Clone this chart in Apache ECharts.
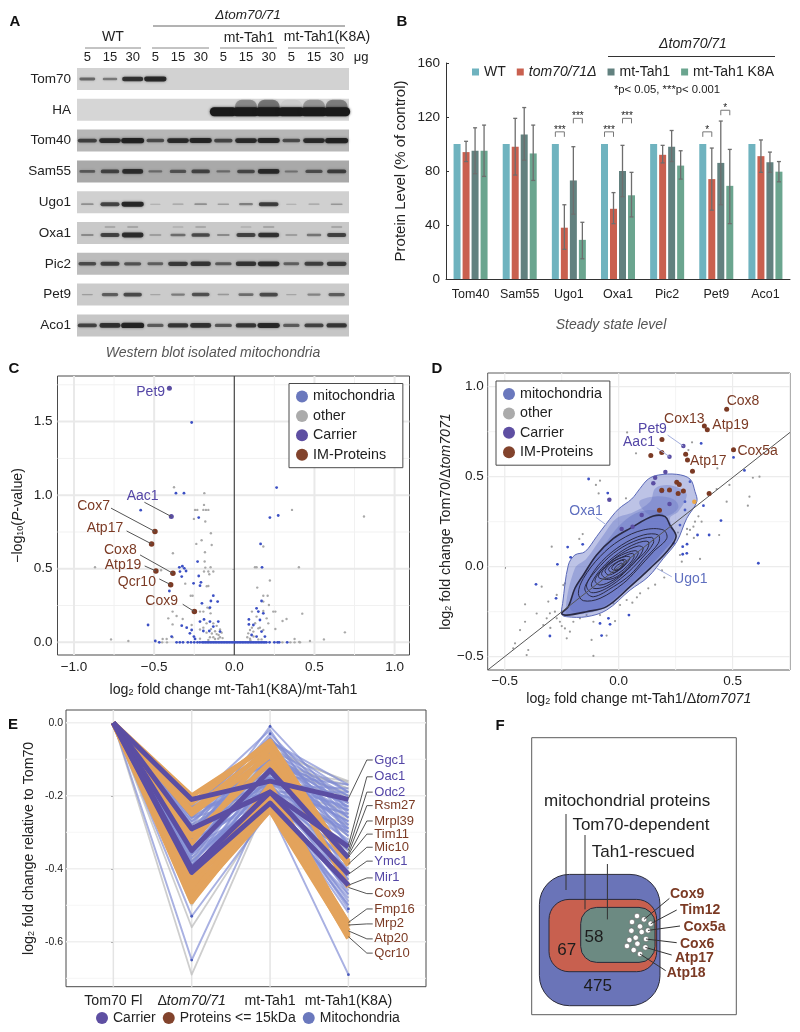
<!DOCTYPE html>
<html>
<head>
<meta charset="utf-8">
<style>html,body{margin:0;padding:0;background:#fff}#main{width:800px;height:1032px}</style>
<script src="https://cdn.jsdelivr.net/npm/echarts@6/dist/echarts.min.js"></script>
</head>
<body>
<div id="main"></div>
<script>
// panel A - band strength per lane, read by eye
var laneLabels = ['5','15','30','5','15','30','5','15','30','5','15','30'];
var blotRows = ['Tom70','HA','Tom40','Sam55','Ugo1','Oxa1','Pic2','Pet9','Aco1'];
var tom70Bands = [.45,.35,.85,.95,0,0,0,0,0,0,0,0];
var haBands    = [0,0,0,0,0,0,1.6,1.6,1.6,1.6,1.6,1.6];
var haSmear    = [0,0,0,0,0,0,0,.35,.45,.05,.3,.4];
var tom40Bands = [.7,.9,1,.6,.9,.95,.65,.9,.95,.6,.9,1];
var sam55Bands = [.45,.65,.85,.3,.5,.65,.3,.6,.9,.25,.55,.7];
var ugo1Bands  = [.2,.7,.95,.02,.08,.2,.12,.3,.75,.02,.08,.15];
var oxa1Bands  = [.2,.7,.9,.15,.4,.65,.2,.7,.85,.15,.35,.7];
var oxa1Upper  = [0,.06,.08,0,.05,.06,0,.05,.1,0,0,.08];
var pic2Bands  = [.6,.7,.55,.45,.75,.8,.5,.8,.9,.45,.7,.75];
var pet9Bands  = [.08,.5,.65,.03,.3,.6,.12,.4,.65,.03,.25,.5];
var aco1Bands  = [.7,.85,1,.5,.8,.85,.55,.8,.95,.5,.7,.8];

// panel B
var proteinsB = ['Tom40','Sam55','Ugo1','Oxa1','Pic2','Pet9','Aco1'];
var wtLevel   = [100,100,100,100,100,100,100];
var delLevel  = [94,98,38,52,92,74,91];
var tahLevel  = [95,107,73,80,98,86,86.5];
var k8aLevel  = [95,93,29,62,84,69,79.5];
var delLow  = [87,77,22,41,86,51,79], delHigh = [102,119,55,64,99,97,103];
var tahLow  = [78,88,48,61,87,55,79], tahHigh = [112,127,98,99,110,117,94];
var k8aLow  = [76,73,15,46,74,41,72], k8aHigh = [114,114,42,79,95,96,87];
// category, bar a, bar b, height, stars
var sigBrackets = [[2,0,1,109,'***'],[2,2,3,119,'***'],[3,0,1,109,'***'],[3,2,3,119,'***'],[5,0,1,109,'*'],[5,2,3,125,'*']];

// panel C
var cMito = [[-.266,1.494],[-.364,1.014],[-.314,1.014],[-.584,.898],[-.222,.848],[.264,1.052],[.222,.848],[.274,.862],[.164,.669],[-.229,.549],[.173,.51],[-.343,.51],[-.324,.517],[-.312,.503],[-.301,.485],[-.339,.481],[-.328,.447],[-.222,.451],[-.254,.401],[-.208,.408],[-.214,.385],[-.405,.349],[-.131,.317],[-.146,.281],[-.104,.277],[-.202,.265],[-.152,.236],[-.538,.118],[.17,.281],[.139,.231],[.091,.156],[.181,.197],[.15,.209],[.16,.152],[.119,.118],[.091,.122],[.17,.073],[.191,.039],[.139,.039],[.108,.05],[-.297,.1],[-.328,.113],[-.266,.084],[-.277,.061],[-.252,.039],[-.214,.141],[-.193,.077],[-.156,.077],[-.189,.156],[-.1,.141],[-.152,.141],[-.391,.039],[-.131,.107],[-.089,.073],[-.245,.023],[-.493,.009],[-.468,0]];
var cMitoZeroX = [-.36,-.34,-.32,-.29,-.27,-.25,-.23,-.215,-.2,-.19,-.18,-.17,-.16,-.15,-.14,-.13,-.12,-.11,-.1,-.09,-.08,-.07,-.06,-.05,-.04,-.03,-.02,-.01,0,.01,.02,.03,.04,.05,.06,.07,.08,.09,.1,.11,.12,.13,.14,.15,.16,.17,.18,.19,.2,.22,.25,.27,.28,.33];
var cOtherZeroX = [-.45,-.42,.3,.35,.41];
var cOther = [[-.376,1.054],[-.187,1.014],[-.189,.934],[-.245,.9],[-.231,.9],[-.193,.9],[-.177,.9],[-.162,.9],[-.252,.839],[-.181,.821],[-.146,.741],[-.204,.694],[-.237,.669],[-.141,.662],[-.383,.605],[-.183,.612],[-.185,.549],[-.869,.51],[-.181,.508],[-.148,.51],[-.189,.481],[-.162,.481],[-.131,.481],[-.156,.463],[-.457,.49],[-.306,.399],[-.162,.383],[-.172,.381],[-.272,.317],[-.26,.317],[-.156,.231],[-.168,.236],[-.193,.209],[-.385,.209],[-.36,.179],[-.412,.163],[-.385,.122],[-.322,.159],[-.214,.209],[-.148,.197],[.36,.9],[.809,.855],[.181,.651],[.129,.51],[.139,.51],[.403,.51],[.222,.42],[.143,.372],[.181,.317],[.208,.317],[.216,.254],[.181,.277],[.243,.209],[.256,.209],[.424,.195],[.326,.159],[.301,.145],[.256,.091],[.11,.209],[.139,.175],[.181,.213],[.202,.163],[.212,.129],[.098,.084],[.087,.061],[.119,.073],[.081,.035],[.098,.025],[.181,.084],[.15,.095],[.69,.068],[.559,.02],[.472,.009],[.405,.002],[.376,.023],[.376,0],[-.769,.02],[-.661,.009],[-.131,.129],[-.11,.112],[-.089,.087],[-.079,.066],[-.11,.056],[-.131,.035],[-.152,.035],[-.173,.066],[-.193,.1],[-.173,.129],[-.089,.035],[-.073,.029],[-.1,.025],[-.12,.023],[-.162,.016],[-.214,.025],[-.447,.023],[-.422,.023],[-.385,.034],[-.214,.087],[-.266,.118],[-.145,.09],[-.12,.075],[-.098,.05],[-.14,.06],[.11,.1],[.13,.13],[.16,.1],[.12,.04],[.15,.02],[.1,.015],[.17,.02]];
var cCarrier = [[-.405,1.726],[-.393,.855]];
var cIM = [[-.495,.753],[-.516,.669],[-.383,.469],[-.489,.485],[-.397,.392],[-.249,.209]];
// name, label x, label y, leader from x, y, leader to x, y, kind
var cLabels = [
  ['Pet9',-.432,1.698,null,null,null,null,'carrier'],
  ['Aac1',-.472,.995,-.561,.952,-.393,.855,'carrier'],
  ['Cox7',-.776,.925,-.769,.912,-.495,.753,'im'],
  ['Atp17',-.693,.773,-.672,.757,-.516,.669,'im'],
  ['Cox8',-.609,.628,-.588,.594,-.383,.469,'im'],
  ['Atp19',-.58,.524,-.559,.519,-.489,.485,'im'],
  ['Qcr10',-.489,.41,-.468,.431,-.397,.392,'im'],
  ['Cox9',-.351,.277,-.322,.259,-.249,.209,'im']
];

// panel D
var dMito = [[-.132,.487],[-.048,.409],[-.224,.109],[-.269,.013],[-.363,-.098],[-.211,.052],[-.158,.124],[-.275,-.176],[-.082,-.315],[-.045,-.287],[-.038,-.32],[-.075,-.383],[.045,-.269],[-.302,-.385],[.299,.074],[.281,.111],[.281,.069],[.362,.685],[.504,.607],[.552,.535],[.372,.339],[.449,.256],[.397,.176],[.613,.019],[.313,.472],[.24,.13],[.269,.231],[.291,.361],[.291,.315],[.346,.176],[.3,.125]];
var dOther = [[.037,.746],[.076,.63],[.322,.691],[.306,.648],[.433,.546],[-.082,.478],[-.1,.454],[-.088,.407],[.032,.38],[.589,.494],[.618,.5],[.486,.454],[.43,.431],[.474,.361],[.574,.389],[.567,.339],[-.294,.111],[-.158,.181],[-.173,.154],[.441,.176],[.357,.043],[.313,.204],[.328,.222],[.3,.21],[.335,.25],[.35,.28],[.364,.25],[.269,.065],[.277,.028],[.19,-.02],[.13,-.12],[-.023,-.204],[.006,-.213],[.035,-.185],[.094,-.148],[-.082,-.269],[-.111,-.306],[-.141,-.269],[-.17,-.287],[-.199,-.306],[-.214,-.361],[-.236,-.343],[-.258,-.306],[-.272,-.287],[-.302,-.259],[-.316,-.287],[-.338,-.111],[-.331,-.324],[-.411,-.209],[-.411,-.306],[-.433,-.352],[-.455,-.426],[-.463,-.454],[-.397,-.463],[-.404,-.491],[-.111,-.496],[-.119,-.407],[-.228,-.398],[-.053,-.383],[-.016,-.302],[-.236,-.093],[-.272,-.157],[-.309,-.194],[-.28,-.25],[-.243,-.102],[-.36,-.26],[-.25,-.33],[-.3,-.34],[.08,-.17],[.06,-.2],[.16,-.1],[.2,-.06],[.26,.19],[.3,.18],[.33,.16]];
var dCarrier = [[.284,.67],[.223,.611],[.205,.526],[.16,.494],[.152,.463],[.189,.42],[-.041,.372],[.223,.348],[.101,.287],[.013,.209],[.061,.222]];
var dIM = [[.474,.874],[.376,.781],[.389,.761],[.19,.706],[.141,.617],[.189,.635],[.294,.624],[.302,.593],[.504,.65],[.324,.53],[.255,.469],[.266,.457],[.189,.424],[.223,.426],[.261,.407],[.284,.42],[.179,.313],[.397,.407]];
var dDiagonal = [[-.575,-.574],[.752,.746]];
var dLabels = [
  ['Cox8',.474,.922,null,null,null,null,'im'],
  ['Cox13',.199,.82,null,null,null,null,'im'],
  ['Atp19',.411,.787,null,null,null,null,'im'],
  ['Atp17',.313,.585,null,null,null,null,'im'],
  ['Cox5a',.521,.643,null,null,null,null,'im'],
  ['Pet9',.085,.765,.215,.731,.284,.67,'carrier'],
  ['Aac1',.019,.691,.167,.661,.223,.611,'carrier'],
  ['Oxa1',-.217,.307,-.1,.274,-.053,.231,'mito'],
  ['Ugo1',.243,-.069,.233,-.056,.167,-.009,'mito']
];
// density outlines, traced by eye
var dFill1 = [[-.25,-.265],[-.246,-.204],[-.221,.009],[-.192,.065],[-.148,.083],[-.097,.167],[-.053,.241],[-.001,.32],[.057,.376],[.094,.435],[.13,.487],[.174,.509],[.255,.513],[.313,.487],[.335,.417],[.343,.361],[.299,.269],[.255,.139],[.196,.046],[.13,-.056],[.05,-.13],[-.053,-.241],[-.141,-.278],[-.228,-.278]];
var dFill2 = [[-.233,-.25],[-.192,-.009],[-.141,.046],[-.067,.176],[-.009,.269],[.064,.302],[.138,.361],[.16,.435],[.211,.454],[.269,.435],[.299,.398],[.262,.306],[.225,.269],[.247,.176],[.196,.083],[.123,-.028],[.05,-.102],[-.067,-.231],[-.199,-.269]];
var dFill3 = [[-.214,-.231],[-.184,-.102],[-.126,.009],[-.053,.139],[.013,.241],[.094,.306],[.182,.306],[.225,.231],[.247,.167],[.196,.083],[.094,-.046],[-.067,-.222],[-.17,-.259]];
var dFill4 = [[.09,.36],[.16,.39],[.24,.375],[.262,.33],[.22,.285],[.14,.285]];
var dLine1 = [[-.25,-.259],[-.221,-.222],[-.192,-.12],[-.155,-.046],[-.097,.065],[-.023,.157],[.05,.213],[.152,.281],[.204,.278],[.225,.231],[.252,.167],[.211,.083],[.138,-.009],[.05,-.111],[-.053,-.222],[-.141,-.25],[-.228,-.269]];
var dLine2 = [[-.177,-.148],[-.155,-.065],[-.082,.056],[.006,.148],[.108,.204],[.196,.204],[.211,.157],[.152,.083],[.079,-.019],[.02,-.093],[-.082,-.176],[-.155,-.189]];
var dLine3 = [[-.148,-.13],[-.133,-.074],[-.075,.028],[.013,.12],[.108,.176],[.174,.176],[.174,.13],[.108,.037],[.05,-.046],[-.023,-.111],[-.111,-.167]];
var dLine4 = [[-.141,-.102],[-.097,-.019],[-.023,.074],[.064,.139],[.145,.163],[.152,.13],[.094,.037],[.028,-.046],[-.053,-.12],[-.119,-.144]];
var dLine5 = [[-.119,-.093],[-.075,-.009],[-.001,.074],[.079,.13],[.13,.139],[.123,.093],[.064,.019],[.006,-.056],[-.06,-.111],[-.111,-.12]];
var dLine6 = [[-.104,-.074],[-.06,0],[.013,.074],[.086,.115],[.108,.102],[.079,.037],[.028,-.028],[-.023,-.074],[-.082,-.102]];
var dLine7 = [[-.089,-.056],[-.045,.019],[.013,.065],[.072,.089],[.086,.074],[.057,.019],[.013,-.037],[-.038,-.07]];
var dLine8 = [[-.075,-.037],[-.038,.019],[.013,.052],[.061,.074],[.067,.052],[.038,.004],[-.001,-.037],[-.053,-.065]];
var dLine9 = [[-.06,-.022],[-.023,.028],[.028,.056],[.05,.052],[.028,.009],[-.009,-.028],[-.045,-.046]];
var dLine10 = [[-.045,-.015],[-.016,.019],[.023,.041],[.035,.028],[.013,-.004],[-.023,-.033]];
var dLine11 = [[-.031,-.009],[-.001,.028],[.023,.033],[.018,.004],[-.009,-.022]];
var dLine12 = [[-.016,-.004],[.009,.019],[.018,.015],[.003,-.011],[-.016,-.019]];

// panel E - each row: Δtom70/71, mt-Tah1, mt-Tah1(K8A), Tom70 Fl is always 0
var eStages = ['Tom70 Fl','Δtom70/71','mt-Tah1','mt-Tah1(K8A)'];
var eOther = [[-.69,-.2,-.3],[-.56,-.23,-.35],[-.5,-.15,-.2],[-.3,-.08,-.16],[-.26,-.12,-.17],[-.36,-.1,-.18],[-.24,-.18,-.24],[-.44,-.2,-.28],[-.4,-.19,-.34],[-.33,-.05,-.22],[-.47,-.22,-.38],[-.28,-.13,-.19],[-.38,-.07,-.27],[-.31,-.15,-.31],[-.25,-.07,-.165],[-.3,-.1,-.18],[-.35,-.13,-.16],[-.23,-.11,-.2],[-.32,-.16,-.21],[-.28,-.19,-.25]];
var eMito = [[-.22,-.02,-.34],[-.24,-.04,-.3],[-.26,-.06,-.28],[-.28,-.03,-.25],[-.22,-.08,-.2],[-.3,-.08,-.33],[-.33,-.1,-.2],[-.25,-.1,-.22],[-.27,-.12,-.26],[-.36,-.13,-.3],[-.21,-.14,-.17],[-.23,-.15,-.24],[-.31,-.16,-.27],[-.38,-.17,-.23],[-.4,-.16,-.35],[-.34,-.18,-.32],[-.29,-.19,-.19],[-.26,-.2,-.29],[-.37,-.2,-.36],[-.42,-.21,-.4],[-.44,-.22,-.44],[-.46,-.23,-.48],[-.39,-.24,-.47],[-.35,-.22,-.5],[-.32,-.21,-.52],[-.47,-.2,-.43],[-.43,-.14,-.31],[-.41,-.12,-.28],[-.48,-.18,-.39],[-.53,-.24,-.42],[-.65,-.19,-.51],[-.36,-.06,-.37],[-.3,-.01,-.24],[-.34,-.11,-.41],[-.4,-.24,-.69],[-.23,-.05,-.17],[-.25,-.07,-.19],[-.27,-.09,-.21],[-.29,-.11,-.23],[-.31,-.04,-.26],[-.33,-.07,-.29],[-.35,-.09,-.31],[-.37,-.12,-.33],[-.39,-.14,-.35],[-.41,-.15,-.37],[-.43,-.17,-.39],[-.45,-.19,-.41],[-.24,-.17,-.18],[-.26,-.13,-.24],[-.28,-.15,-.27],[-.3,-.18,-.3],[-.32,-.2,-.33],[-.34,-.22,-.37],[-.36,-.21,-.46],[-.38,-.19,-.49],[-.4,-.23,-.45],[-.42,-.18,-.43],[-.44,-.16,-.47],[-.46,-.2,-.5],[-.22,-.11,-.29],[-.24,-.19,-.25],[-.31,-.05,-.19],[-.35,-.15,-.22],[-.39,-.1,-.26],[-.2,-.09,-.23]];
var eMitoTips = [[1,-.53],[1,-.65],[2,-.01],[2,-.03],[3,-.69],[3,-.51]];
var eSmall = [[-.2,-.06,-.38],[-.22,-.05,-.385],[-.24,-.07,-.39],[-.25,-.09,-.39],[-.31,-.11,-.38],[-.33,-.07,-.45],[-.44,-.21,-.55],[-.46,-.23,-.57],[-.48,-.24,-.585],[-.49,-.22,-.59],[-.47,-.2,-.55],[-.45,-.17,-.56],[-.43,-.19,-.58]];
var eCarrier = [[-.21,-.16,-.21],[-.29,-.19,-.34],[-.35,-.13,-.37],[-.41,-.22,-.445],[-.4,-.19,-.415]];
var eLabels = [['Ggc1',-.102,-.207,'carrier'],['Oac1',-.148,-.335,'carrier'],['Odc2',-.19,-.349,'carrier'],['Rsm27',-.227,-.358,'im'],['Mrpl39',-.269,-.363,'im'],['Tim11',-.305,-.367,'im'],['Mic10',-.341,-.387,'im'],['Ymc1',-.379,-.415,'carrier'],['Mir1',-.425,-.445,'carrier'],['Cox9',-.468,-.451,'im'],['Fmp16',-.51,-.547,'im'],['Mrp2',-.551,-.554,'im'],['Atp20',-.592,-.57,'im'],['Qcr10',-.631,-.586,'im']];

// panel F - schematic, in panel units
var fCounts = ['475','67','58'];
var fRegions = [[7.7,136.7,128.3,268,30,'#6a74b8'],[17.3,161.7,125,234,20,'#c8604f'],[49,169.7,123.3,224.7,16,'#6c8a82']];
var fDots = [[105.3,178.3],[112.3,181.7],[119,186],[100.3,184.3],[108.3,188.7],[116.3,192.7],[99.7,193],[110,194.3],[104,200],[114.3,201.3],[97.7,202.3],[105.7,206],[95.3,208.3],[102,212.3],[113.7,209.7],[108.3,216.3]];
var fGenes = [['Cox9',138.3,156.7,137.7,160.7,112.3,181.7],['Tim12',148.3,172.7,145,172.3,119,186],['Cox5a',151.7,189.7,148.3,188.3,116.3,192.7],['Cox6',148.3,206.3,145,205,114.3,201.3],['Atp17',143.3,220,140,217.3,113.7,209.7],['Atp18',135,235,134,233,108.3,216.3]];
var fSets = [['mitochondrial proteins',12.3,63.3,34.3,76.3,34.3,152.3],['Tom70-dependent',40.7,87.3,53.3,97.3,53.3,171.7],['Tah1-rescued',60,114.3,75.7,126.3,75.7,181.7]];

var FONT = "'Liberation Sans', Arial, sans-serif";
var BLUE = '#3c50c4', GREY = '#a9a9a9', PURPLE = '#5b4ea3', BROWN = '#7b3a24', ORANGE = '#e3a35c';
var LEGEND_BLUE = '#6a78bd', LEGEND_GREY = '#ababab', LEGEND_PURPLE = '#5e4fa2', LEGEND_BROWN = '#82432c';
var kindColor = {carrier: '#5446a6', im: '#7b3a24', mito: '#5f6fbf'};

function hyphenMinus(v) { return v.toFixed(1).replace('-', '\u2212'); }

function valueAxis(grid, min, max, ticks, fmt, size, margin, extra) {
  return Object.assign({
    type: 'value', gridIndex: grid, min: min, max: max,
    splitLine: {show: false}, axisLine: {show: false},
    axisTick: {show: true, length: 2, customValues: ticks, lineStyle: {color: '#333'}},
    axisLabel: {customValues: ticks, formatter: fmt, fontSize: size, color: '#222', margin: margin}
  }, extra || {});
}

// background rules, the library's own split lines would start from the odd min
function ruleSeries(x, y, vals, vertical, color, width, z) {
  return {
    type: 'custom', xAxisIndex: x, yAxisIndex: y, silent: true, z: z || 1,
    data: vals.map(function (v, i) { return [i]; }),
    renderItem: function (params, api) {
      var cs = params.coordSys, v = vals[params.dataIndex];
      var p = vertical ? api.coord([v, 0]) : api.coord([0, v]);
      var shape = vertical ? {x1: p[0], y1: cs.y, x2: p[0], y2: cs.y + cs.height}
                           : {x1: cs.x, y1: p[1], x2: cs.x + cs.width, y2: p[1]};
      return {type: 'line', shape: shape, style: {stroke: color, lineWidth: width}};
    }
  };
}

function labelSeries(x, y, rows, opts) {
  return {
    type: 'custom', xAxisIndex: x, yAxisIndex: y, silent: true, z: 8,
    data: rows.map(function (r, i) { return [i]; }),
    renderItem: function (params, api) {
      var r = rows[params.dataIndex], kids = [], p = api.coord([r[1], r[2]]);
      var color = opts.color || kindColor[r[7]];
      if (r[3] !== null) {
        var a = api.coord([r[3], r[4]]), b = api.coord([r[5], r[6]]);
        kids.push({type: 'line', shape: {x1: a[0], y1: a[1], x2: b[0], y2: b[1]},
          style: {stroke: (r[7] === 'mito' || (opts.paleCarrier && r[7] === 'carrier')) ? '#a3aedd' : (opts.leader || '#444'), lineWidth: 1}});
      }
      kids.push({type: 'text', x: p[0], y: p[1], style: {text: r[0], fill: color, font: opts.font,
        textAlign: opts.align, textVerticalAlign: 'middle'}});
      return {type: 'group', children: kids};
    }
  };
}

function bandSeries(row, values, dy, smear) {
  return {
    type: 'custom', xAxisIndex: 0, yAxisIndex: 0, silent: true, z: 3,
    data: values.map(function (v, i) { return [i, row, v]; }),
    renderItem: function (params, api) {
      var v = api.value(2);
      if (!v) return null;
      var p = api.coord([api.value(0), api.value(1)]);
      var w = v > 1 ? 27 : 10 + v * 13;
      var h = v > 1 ? 9 : 1 + v * 4.2;
      if (smear) { h = 14; w = 22; }
      var alpha = smear ? v : Math.min(1, .18 + .72 * v);
      return {type: 'rect', shape: {x: p[0] - w / 2, y: p[1] + dy - h / 2, width: w, height: h, r: h / 2},
        style: {fill: 'rgba(26,26,26,' + alpha + ')', shadowBlur: 2.5, shadowColor: 'rgba(26,26,26,' + alpha * .8 + ')'}};
    }
  };
}

var blotShade = ['#d2d2d2','#d6d6d6','#b7b7b7','#a9a9a9','#d0d0d0','#c9c9c9','#bcbcbc','#cbcbcb','#c6c6c6'];

function scatter(name, x, y, data, color, size, z) {
  return {type: 'scatter', name: name, xAxisIndex: x, yAxisIndex: y, data: data, symbolSize: size,
    itemStyle: {color: color, opacity: 1}, z: z, silent: true};
}

function contourFill(poly, color, border) {
  return {type: 'custom', xAxisIndex: 3, yAxisIndex: 3, silent: true, z: 3, data: [[0]],
    renderItem: function (params, api) {
      return {type: 'polygon', shape: {points: poly.map(function (q) { return api.coord(q); }), smooth: .35},
        style: {fill: color, stroke: border, lineWidth: border === 'none' ? 0 : 1}};
    }};
}
function contourLine(poly, width) {
  return {type: 'custom', xAxisIndex: 3, yAxisIndex: 3, silent: true, z: 4, data: [[0]],
    renderItem: function (params, api) {
      return {type: 'polygon', shape: {points: poly.map(function (q) { return api.coord(q); }), smooth: .35},
        style: {fill: 'none', stroke: '#2a2a44', lineWidth: width}};
    }};
}

function trendSeries(name, rows, color, width, z) {
  return rows.map(function (r) {
    return {type: 'line', name: name, xAxisIndex: 4, yAxisIndex: 4, silent: true, z: z,
      data: [[0, 0], [1, r[0]], [2, r[1]], [3, r[2]]],
      showSymbol: false, itemStyle: {color: color},
      lineStyle: {color: color, width: width, join: 'round'}};
  });
}

function sideLegend(left, top) {
  return {
    left: left, top: top, orient: 'vertical', icon: 'circle', itemWidth: 12, itemHeight: 12, itemGap: 5.4,
    padding: [6, 8, 6, 7], borderColor: '#4a4a4a', borderWidth: 1, backgroundColor: '#fff', selectedMode: false, z: 9,
    textStyle: {fontSize: 14.3, color: '#222', fontFamily: FONT},
    data: [
      {name: 'mitochondria', itemStyle: {color: LEGEND_BLUE, opacity: 1}},
      {name: 'other', itemStyle: {color: LEGEND_GREY, opacity: 1}},
      {name: 'Carrier', itemStyle: {color: LEGEND_PURPLE, opacity: 1}},
      {name: 'IM-Proteins', itemStyle: {color: LEGEND_BROWN, opacity: 1}}
    ]
  };
}

function txt(x, y, text, size, extra) {
  return {type: 'text', x: x, y: y, silent: true, style: Object.assign({
    text: text, fill: '#222', textAlign: 'center', textVerticalAlign: 'middle', font: size + 'px ' + FONT}, extra || {})};
}
function rule(x1, x2, y, color) {
  return {type: 'line', silent: true, shape: {x1: x1, y1: y, x2: x2, y2: y}, style: {stroke: color, lineWidth: 1}};
}

var subRich = {t: {fontSize: 14.2, color: '#222', fontFamily: FONT}, s: {fontSize: 9, color: '#222', verticalAlign: 'bottom', fontFamily: FONT}, i: {fontSize: 14.2, color: '#222', fontStyle: 'italic', fontFamily: FONT}};

var barColors = ['#6fb3bf', '#c9604f', '#62817f', '#6ba58f'];
var barSets = [wtLevel, delLevel, tahLevel, k8aLevel];
var barNames = ['WT', 'tom70/71Δ', 'mt-Tah1', 'mt-Tah1 K8A'];
var errorSets = [null, [delLow, delHigh], [tahLow, tahHigh], [k8aLow, k8aHigh]];
var BAR_STEP = 9;

var series = [];

// A
series.push({
  type: 'custom', xAxisIndex: 0, yAxisIndex: 0, silent: true, z: 2,
  data: blotRows.map(function (r, i) { return [0, i]; }),
  renderItem: function (params, api) {
    var cs = params.coordSys, p = api.coord([0, api.value(1)]);
    return {type: 'rect', shape: {x: cs.x + 1, y: p[1] - 11, width: cs.width, height: 22},
      style: {fill: blotShade[params.dataIndex]}};
  }
});
series.push(bandSeries(0, tom70Bands, 0));
series.push(bandSeries(1, haSmear, -3, true));
series.push(bandSeries(1, haBands, 2));
series.push(bandSeries(2, tom40Bands, 0));
series.push(bandSeries(3, sam55Bands, 0));
series.push(bandSeries(4, ugo1Bands, 2));
series.push(bandSeries(5, oxa1Bands, 2));
series.push(bandSeries(5, oxa1Upper, -6));
series.push(bandSeries(6, pic2Bands, 0));
series.push(bandSeries(7, pet9Bands, 0));
series.push(bandSeries(8, aco1Bands, 0));

// B
barSets.forEach(function (vals, i) {
  series.push({type: 'bar', name: barNames[i], xAxisIndex: 1, yAxisIndex: 1, data: vals, barWidth: 7, barGap: '28.6%',
    itemStyle: {color: barColors[i]}, silent: true});
});
errorSets.forEach(function (set, si) {
  if (!set) return;
  series.push({
    type: 'custom', xAxisIndex: 1, yAxisIndex: 1, silent: true, z: 4,
    data: proteinsB.map(function (p, i) { return [i, set[0][i], set[1][i]]; }),
    renderItem: function (params, api) {
      var lo = api.coord([api.value(0), api.value(1)]), hi = api.coord([api.value(0), api.value(2)]);
      var x = lo[0] + (si - 1.5) * BAR_STEP, st = {stroke: '#6e6e6e', lineWidth: 1.3};
      return {type: 'group', children: [
        {type: 'line', shape: {x1: x, y1: lo[1], x2: x, y2: hi[1]}, style: st},
        {type: 'line', shape: {x1: x - 2, y1: lo[1], x2: x + 2, y2: lo[1]}, style: st},
        {type: 'line', shape: {x1: x - 2, y1: hi[1], x2: x + 2, y2: hi[1]}, style: st}
      ]};
    }
  });
});
series.push({
  type: 'custom', xAxisIndex: 1, yAxisIndex: 1, silent: true, z: 5,
  data: sigBrackets.map(function (b, i) { return [i]; }),
  renderItem: function (params, api) {
    var b = sigBrackets[params.dataIndex], p = api.coord([b[0], b[3]]);
    var x1 = p[0] + (b[1] - 1.5) * BAR_STEP, x2 = p[0] + (b[2] - 1.5) * BAR_STEP;
    return {type: 'group', children: [
      {type: 'polyline', shape: {points: [[x1, p[1] + 5], [x1, p[1]], [x2, p[1]], [x2, p[1] + 5]]}, style: {stroke: '#777', fill: 'none', lineWidth: 1}},
      {type: 'text', x: (x1 + x2) / 2, y: p[1] - 2, style: {text: b[4], fill: '#222', font: '10px ' + FONT, textAlign: 'center', textVerticalAlign: 'middle'}}
    ]};
  }
});

// C
series.push(ruleSeries(2, 2, [-.75, -.25, .25, .75], true, '#f1f1f1', 1));
series.push(ruleSeries(2, 2, [.25, .75, 1.25, 1.75], false, '#f1f1f1', 1));
series.push(ruleSeries(2, 2, [-1, -.5, .5, 1], true, '#e9e9e9', 2));
series.push(ruleSeries(2, 2, [0, .5, 1, 1.5], false, '#e9e9e9', 2));
series.push(ruleSeries(2, 2, [0], true, '#444', 1.2, 2));
series.push(scatter('other', 2, 2, cOther, GREY, 2.4, 3));
series.push(scatter('other', 2, 2, cOtherZeroX.map(function (v) { return [v, 0]; }), GREY, 2.4, 3));
series.push(scatter('mitochondria', 2, 2, cMito, BLUE, 2.8, 4));
series.push(scatter('mitochondria', 2, 2, cMitoZeroX.map(function (v) { return [v, 0]; }), BLUE, 2.8, 4));
series.push(scatter('Carrier', 2, 2, cCarrier, PURPLE, 5, 6));
series.push(scatter('IM-Proteins', 2, 2, cIM, BROWN, 5.5, 6));
series.push(labelSeries(2, 2, cLabels, {align: 'right', font: '14px ' + FONT, leader: '#555'}));

// D
series.push(ruleSeries(3, 3, [-.25, .25, .75], true, '#f4f4f4', 1));
series.push(ruleSeries(3, 3, [-.25, .25, .75], false, '#f4f4f4', 1));
series.push(ruleSeries(3, 3, [-.5, 0, .5], true, '#ececec', 1.2));
series.push(ruleSeries(3, 3, [-.5, 0, .5, 1], false, '#ececec', 1.2));
series.push(scatter('other', 3, 3, dOther, '#9a9a9a', 2.2, 2));
series.push(scatter('mitochondria', 3, 3, dMito, BLUE, 2.8, 2));
series.push(contourFill(dFill1, 'rgba(98,112,196,.42)', '#5a68b8'));
series.push(contourFill(dFill2, 'rgba(98,112,196,.38)', 'none'));
series.push(contourFill(dFill3, 'rgba(98,112,196,.4)', 'none'));
series.push(contourFill(dFill4, 'rgba(98,112,196,.35)', 'none'));
series.push(contourFill(dLine1, 'rgba(98,112,196,.5)', 'none'));
series.push(contourLine(dLine1, 1.6));
[dLine2, dLine3, dLine4, dLine5, dLine6, dLine7, dLine8, dLine9, dLine10, dLine11, dLine12].forEach(function (c) {
  series.push(contourLine(c, 1));
});
series.push({type: 'line', xAxisIndex: 3, yAxisIndex: 3, data: dDiagonal, showSymbol: false, silent: true, z: 5,
  lineStyle: {color: '#555', width: 1}});
series.push(scatter('Carrier', 3, 3, dCarrier, PURPLE, 4.5, 6));
series.push(scatter('IM-Proteins', 3, 3, dIM, BROWN, 5, 6));
series.push(scatter('', 3, 3, [[.332, .361]], '#e8a548', 4.5, 6));
series.push(labelSeries(3, 3, dLabels, {align: 'left', font: '14px ' + FONT, paleCarrier: true}));

// E
series.push(ruleSeries(4, 4, [-.1, -.3, -.5, -.7], false, '#f6f6f6', 1));
series.push(ruleSeries(4, 4, [0, -.2, -.4, -.6], false, '#efefef', 1.5));
series.push(ruleSeries(4, 4, [0, 1, 2, 3], true, '#e4e4e4', 1.5));
Array.prototype.push.apply(series, trendSeries('', eOther, 'rgba(190,190,190,.75)', 1.8, 3));
Array.prototype.push.apply(series, trendSeries('Mitochondria', eMito, 'rgba(128,140,212,.68)', 2, 3));
series.push(scatter('Mitochondria', 4, 4, eMitoTips, '#4b5bbb', 2.8, 3));
Array.prototype.push.apply(series, trendSeries('Proteins <= 15kDa', eSmall, ORANGE, 5, 4));
Array.prototype.push.apply(series, trendSeries('Carrier', eCarrier, PURPLE, 5, 5));
series.push({
  type: 'custom', xAxisIndex: 4, yAxisIndex: 4, silent: true, z: 8,
  data: eLabels.map(function (r, i) { return [i]; }),
  renderItem: function (params, api) {
    var r = eLabels[params.dataIndex];
    var a = api.coord([3, r[2]]), b = api.coord([3.235, r[1]]), c = api.coord([3.31, r[1]]), d = api.coord([3.33, r[1]]);
    return {type: 'group', children: [
      {type: 'polyline', shape: {points: [a, b, c]}, style: {stroke: '#555', fill: 'none', lineWidth: 1}},
      {type: 'text', x: d[0], y: d[1], style: {text: r[0], fill: kindColor[r[3]], font: '13px ' + FONT, textAlign: 'left', textVerticalAlign: 'middle'}}
    ]};
  }
});

// F
series.push({
  type: 'custom', xAxisIndex: 5, yAxisIndex: 5, silent: true, z: 2,
  data: fRegions.map(function (r, i) { return [i]; }),
  renderItem: function (params, api) {
    var r = fRegions[params.dataIndex], a = api.coord([r[0], r[1]]), b = api.coord([r[2], r[3]]);
    return {type: 'rect', shape: {x: a[0], y: a[1], width: b[0] - a[0], height: b[1] - a[1], r: r[4]},
      style: {fill: r[5], stroke: '#2b2b3a', lineWidth: 1}};
  }
});
series.push({type: 'scatter', xAxisIndex: 5, yAxisIndex: 5, data: fDots, symbolSize: 5.5, silent: true, z: 4,
  itemStyle: {color: '#fff', opacity: 1, borderColor: '#555', borderWidth: .6}});
series.push(labelSeries(5, 5, fGenes, {align: 'left', font: 'bold 14px ' + FONT, color: BROWN, leader: '#333'}));
series.push(labelSeries(5, 5, fSets, {align: 'left', font: '17px ' + FONT, color: '#222', leader: '#333'}));
series.push(labelSeries(5, 5, [[fCounts[0], 66, 249, null], [fCounts[1], 35, 213, null], [fCounts[2], 62.3, 199.7, null]],
  {align: 'center', font: '17px ' + FONT, color: '#1c1c1c'}));

var eXAxis = valueAxis(4, -.604, 3.99, [0, 1, 2, 3], function (v) {
  return v === 1 ? '{t|Δ}{i|tom70/71}' : '{t|' + eStages[v] + '}';
}, 14.2, 7, {});
eXAxis.axisLabel.rich = subRich;
eXAxis.axisLabel.hideOverlap = false;

var option = {
  animation: false,
  backgroundColor: '#fff',
  textStyle: {fontFamily: FONT},
  grid: [
    {left: 76, top: 63.6, width: 272, height: 277.2},
    {left: 446, top: 63, width: 344, height: 216},
    {left: 57.5, top: 376, width: 352, height: 279, show: true, borderColor: '#4a4a4a', borderWidth: 1, backgroundColor: '#fff'},
    {left: 487.7, top: 373, width: 302.3, height: 297, show: true, borderColor: '#5c5c5c', borderWidth: 1, backgroundColor: '#fff'},
    {left: 66, top: 710, width: 360, height: 276.7, show: true, borderColor: '#4a4a4a', borderWidth: 1, backgroundColor: '#fff'},
    {left: 531.7, top: 737.7, width: 204.6, height: 277, show: true, borderColor: '#5c5c5c', borderWidth: 1, backgroundColor: '#fff'}
  ],
  xAxis: [
    {type: 'category', gridIndex: 0, position: 'top', data: laneLabels, axisLine: {show: false}, axisTick: {show: false},
      axisLabel: {interval: 0, fontSize: 13, color: '#222', margin: 0}},
    {type: 'category', gridIndex: 1, data: proteinsB, axisTick: {show: false}, axisLine: {lineStyle: {color: '#333'}},
      axisLabel: {interval: 0, fontSize: 12.5, color: '#222', margin: 9}},
    valueAxis(2, -1.103, 1.093, [-1, -.5, 0, .5, 1], hyphenMinus, 13.5, 5, {
      name: '{t|log}{s|2}{t| fold change mt-Tah1(K8A)/mt-Tah1}', nameLocation: 'middle', nameGap: 28, nameTextStyle: {rich: subRich}}),
    valueAxis(3, -.575, .752, [-.5, 0, .5], hyphenMinus, 13.5, 4, {
      name: '{t|log}{s|2}{t| fold change mt-Tah1/Δ}{i|tom7071}', nameLocation: 'middle', nameGap: 22, nameTextStyle: {rich: subRich}}),
    eXAxis,
    {type: 'value', gridIndex: 5, min: 0, max: 204.6, show: false}
  ],
  yAxis: [
    {type: 'category', gridIndex: 0, inverse: true, data: blotRows, axisLine: {show: false}, axisTick: {show: false},
      axisLabel: {fontSize: 13.5, color: '#222', margin: 5}},
    {type: 'value', gridIndex: 1, min: 0, max: 160, interval: 40, splitLine: {show: false},
      axisLine: {show: true, lineStyle: {color: '#333'}}, axisTick: {show: true, inside: true, length: 3, lineStyle: {color: '#333'}},
      axisLabel: {fontSize: 13.5, color: '#222', margin: 6},
      name: 'Protein Level (% of control)', nameLocation: 'middle', nameGap: 38, nameTextStyle: {fontSize: 15, color: '#222'}},
    valueAxis(2, -.086, 1.81, [0, .5, 1, 1.5], hyphenMinus, 13.5, 5, {
      name: '{t|\u2212log}{s|10}{t|(}{i|P}{t|-value)}', nameLocation: 'middle', nameGap: 32, nameTextStyle: {rich: subRich}}),
    valueAxis(3, -.574, 1.076, [-.5, 0, .5, 1], hyphenMinus, 13.5, 4, {
      name: '{t|log}{s|2}{t| fold change Tom70/Δ}{i|tom7071}', nameLocation: 'middle', nameGap: 34, nameTextStyle: {rich: subRich}}),
    valueAxis(4, -.723, .035, [0, -.2, -.4, -.6], function (v) { return v.toFixed(1); }, 10.5, 3, {
      name: '{t|log}{s|2}{t| fold change relative to Tom70}', nameLocation: 'middle', nameGap: 30, nameTextStyle: {rich: subRich}}),
    {type: 'value', gridIndex: 5, min: 0, max: 277, inverse: true, show: false}
  ],
  legend: [
    {left: 472, top: 65, icon: 'rect', itemWidth: 7, itemHeight: 7, itemGap: 11, selectedMode: false, padding: 0,
      textStyle: {fontSize: 14, color: '#222', fontFamily: FONT},
      data: [{name: 'WT'}, {name: 'tom70/71Δ', textStyle: {fontStyle: 'italic'}}, {name: 'mt-Tah1'}, {name: 'mt-Tah1 K8A'}]},
    sideLegend(289, 383.5),
    sideLegend(496, 381),
    {left: 96, top: 1011, icon: 'circle', itemWidth: 12, itemHeight: 12, itemGap: 7, selectedMode: false, padding: 0,
      textStyle: {fontSize: 14, color: '#222', fontFamily: FONT},
      data: [
        {name: 'Carrier', itemStyle: {color: LEGEND_PURPLE}},
        {name: 'Proteins <= 15kDa', itemStyle: {color: LEGEND_BROWN}},
        {name: 'Mitochondria', itemStyle: {color: LEGEND_BLUE}}
      ]}
  ],
  series: series,
  graphic: {elements: [
    txt(15, 22, 'A', 15, {font: 'bold 15px ' + FONT, fill: '#111'}),
    txt(402, 22, 'B', 15, {font: 'bold 15px ' + FONT, fill: '#111'}),
    txt(14, 369, 'C', 15, {font: 'bold 15px ' + FONT, fill: '#111'}),
    txt(437, 369, 'D', 15, {font: 'bold 15px ' + FONT, fill: '#111'}),
    txt(13, 725, 'E', 15, {font: 'bold 15px ' + FONT, fill: '#111'}),
    txt(500, 726, 'F', 15, {font: 'bold 15px ' + FONT, fill: '#111'}),
    txt(248, 15, 'Δtom70/71', 13.5, {font: 'italic 13.5px ' + FONT}),
    rule(153, 345, 26, '#666'),
    txt(113, 37, 'WT', 14),
    txt(249, 38, 'mt-Tah1', 14),
    txt(327, 37, 'mt-Tah1(K8A)', 14),
    rule(85, 141, 48, '#888'), rule(152, 209, 48, '#888'), rule(220, 277, 48, '#888'), rule(288, 345, 48, '#888'),
    txt(361, 57, 'μg', 13),
    txt(213, 353, 'Western blot isolated mitochondria', 14, {font: 'italic 14px ' + FONT, fill: '#555'}),
    txt(693, 44, 'Δtom70/71', 14, {font: 'italic 14px ' + FONT}),
    rule(608, 775, 56.5, '#333'),
    txt(667, 90, '*p< 0.05, ***p< 0.001', 11.3),
    txt(611, 325, 'Steady state level', 14, {font: 'italic 14px ' + FONT, fill: '#555'})
  ]}
};

var myChart = echarts.init(document.getElementById('main'), null, {renderer: 'canvas', width: 800, height: 1032});
myChart.setOption(option);
</script>
</body>
</html>
